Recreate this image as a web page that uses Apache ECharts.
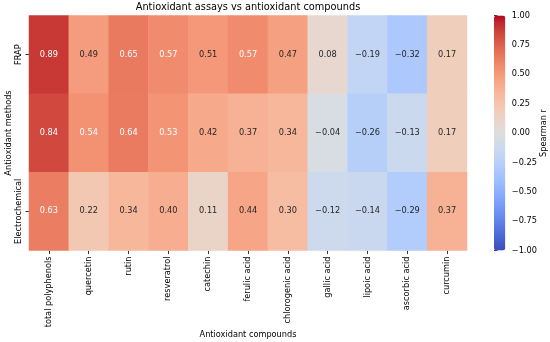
<!DOCTYPE html>
<html>
<head>
<meta charset="utf-8">
<script src="https://cdn.jsdelivr.net/npm/echarts@6/dist/echarts.min.js"></script>
<style>html,body{margin:0;padding:0;background:#fff;}#c{width:550px;height:342px;}</style>
</head>
<body>
<div id="c"></div>
<script>
const compounds = ["total polyphenols","quercetin","rutin","resveratrol","catechin","ferulic acid","chlorogenic acid","gallic acid","lipoic acid","ascorbic acid","curcumin"];
const methods = ["FRAP","DPPH","Electrochemical"];
const frap = [0.89,0.49,0.65,0.57,0.51,0.57,0.47,0.08,-0.19,-0.32,0.17];
const dpph = [0.84,0.54,0.64,0.53,0.42,0.37,0.34,-0.04,-0.26,-0.13,0.17];
const electrochemical = [0.63,0.22,0.34,0.40,0.11,0.44,0.30,-0.12,-0.14,-0.29,0.37];
const colorbarTicks = [-1,-0.75,-0.5,-0.25,0,0.25,0.5,0.75,1];

const coolwarm = ["#3b4cc0","#445acc","#4d68d7","#5775e1","#6282ea","#6c8ff1","#779af7","#82a5fb","#8db0fe","#98b9ff","#a3c2fe","#aec9fc","#b8d0f9","#c2d5f4","#ccd9ee","#d5dbe6","#dddddd","#e5d8d1","#ecd3c5","#f1ccb9","#f5c4ad","#f7bba0","#f7b194","#f6a687","#f49a7b","#f18d6f","#ec7f63","#e57058","#de604d","#d55042","#cb3e38","#c0282f","#b40426"];

const rows = [frap, dpph, electrochemical];
const data = [];
rows.forEach((r, yi) => r.forEach((v, xi) => {
  data.push({value: [xi, yi, v], label: {color: v >= 0.52 ? '#ffffff' : '#262626'}});
}));

const FONT = 'DejaVu Sans';
const FS = 8.2;
const fmt = v => (v < 0 ? '\u2212' : '') + Math.abs(v).toFixed(2);

const chart = echarts.init(document.getElementById('c'), null, {renderer: 'canvas'});
chart.setOption({
  animation: false,
  backgroundColor: '#ffffff',
  textStyle: {fontFamily: FONT},
  title: {
    text: 'Antioxidant assays vs antioxidant compounds',
    left: 248, top: 2, textAlign: 'center', padding: 0,
    textStyle: {fontFamily: FONT, fontSize: 9.8, fontWeight: 'normal', color: '#000'}
  },
  grid: [
    {left: 29, top: 15.5, width: 438, height: 235, containLabel: false, outerBoundsMode: 'none'},
    {left: 494, top: 15.5, width: 11.3, height: 235, containLabel: false, outerBoundsMode: 'none'}
  ],
  xAxis: [{
    type: 'category', data: compounds, gridIndex: 0,
    axisLine: {show: false},
    axisTick: {show: true, alignWithLabel: true, length: 3.5, lineStyle: {color: '#000', width: 0.8}},
    axisLabel: {rotate: 90, margin: 6, fontFamily: FONT, fontSize: FS, color: '#000', interval: 0},
    splitLine: {show: false},
    name: 'Antioxidant compounds', nameLocation: 'middle', nameGap: 80, nameMoveOverlap: false,
    nameTextStyle: {fontFamily: FONT, fontSize: FS, color: '#000'}
  }, {
    type: 'value', gridIndex: 1, show: false, min: 0, max: 1
  }],
  yAxis: [{
    type: 'category', data: methods, gridIndex: 0, inverse: true,
    axisLine: {show: false},
    axisTick: {show: true, alignWithLabel: true, length: 3.5, lineStyle: {color: '#000', width: 0.8}},
    axisLabel: {rotate: 90, margin: 6, align: 'center', verticalAlign: 'bottom', fontFamily: FONT, fontSize: FS, color: '#000'},
    splitLine: {show: false},
    name: 'Antioxidant methods', nameLocation: 'middle', nameGap: 16, nameRotate: 90, nameMoveOverlap: false,
    nameTextStyle: {fontFamily: FONT, fontSize: FS, color: '#000'}
  }, {
    type: 'value', gridIndex: 1, position: 'right', min: -1, max: 1, interval: 0.25,
    axisLine: {show: false},
    axisTick: {show: true, length: 3.5, lineStyle: {color: '#000', width: 0.8}},
    axisLabel: {margin: 6.5, fontFamily: FONT, fontSize: FS, color: '#000', formatter: fmt},
    splitLine: {show: false},
    name: 'Spearman r', nameLocation: 'middle', nameGap: 35, nameRotate: 90, nameMoveOverlap: false,
    nameTextStyle: {fontFamily: FONT, fontSize: FS, color: '#000'}
  }],
  visualMap: {
    type: 'continuous', min: -1, max: 1, seriesIndex: 0,
    show: true, calculable: false, orient: 'vertical',
    left: 494, top: 15.5, itemWidth: 11.3, itemHeight: 235, padding: 0,
    text: null, showLabel: false,
    inRange: {color: coolwarm}
  },
  series: [{
    type: 'heatmap', xAxisIndex: 0, yAxisIndex: 0, data: data,
    itemStyle: {borderWidth: 0},
    label: {show: true, fontFamily: FONT, fontSize: FS, formatter: p => fmt(p.value[2])},
    emphasis: {disabled: true}
  }, {
    type: 'scatter', xAxisIndex: 1, yAxisIndex: 1, data: [], silent: true
  }]
});
</script>
</body>
</html>
